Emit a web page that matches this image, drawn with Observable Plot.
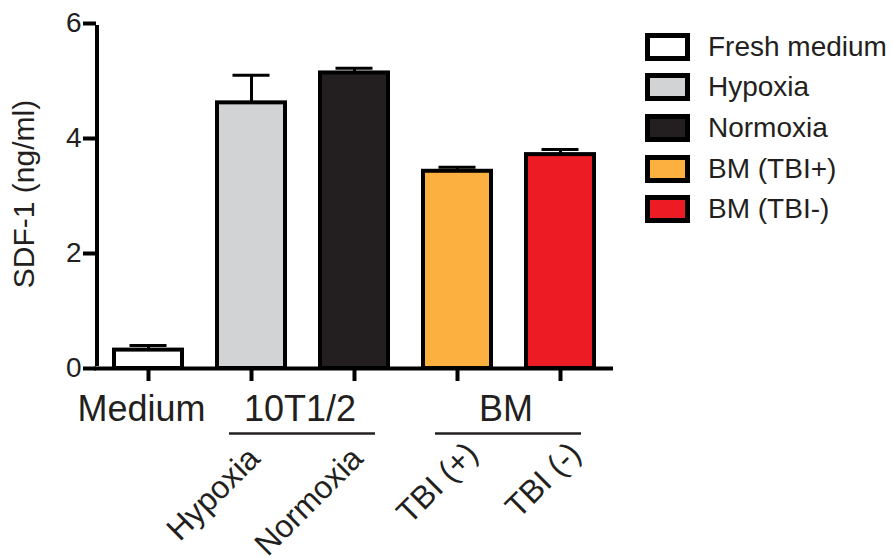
<!DOCTYPE html>
<html><head><meta charset="utf-8">
<script src="https://cdn.jsdelivr.net/npm/d3@7"></script>
<script src="https://cdn.jsdelivr.net/npm/@observablehq/plot@0.6"></script>
<style>
body{margin:0;background:#fff;}
#wrap{position:relative;width:892px;height:557px;font-family:"Liberation Sans",Arial,Helvetica,sans-serif;}
.leg-row{position:absolute;left:645px;height:28px;width:247px;}
.sw{position:absolute;left:0;top:0;width:45px;height:28px;border:5px solid #000;box-sizing:border-box;}
.lt{position:absolute;left:63px;top:0;font-size:28px;line-height:28px;color:#231f20;white-space:nowrap;}
</style></head><body><div id="wrap"></div>
<script>
const categories = ["Medium", "Hypoxia", "Normoxia", "TBI (+)", "TBI (-)"];
const values = [0.32, 4.62, 5.14, 3.43, 3.72];
const errors = [0.08, 0.48, 0.08, 0.07, 0.09];
const colors = ["#ffffff", "#d1d3d4", "#231f20", "#fbb040", "#ed1c24"];
const legendLabels = ["Fresh medium", "Hypoxia", "Normoxia", "BM (TBI+)", "BM (TBI-)"];
const yTicks = [0, 2, 4, 6];
const yLabel = "SDF-1 (ng/ml)";
const groupNames = ["10T1/2", "BM"];
const groupFirst = ["Hypoxia", "TBI (+)"];
const groupLast = ["Normoxia", "TBI (-)"];
const labels10T = ["Hypoxia", "Normoxia"];
const labelsBM = ["TBI (+)", "TBI (-)"];
const mediumLabel = "Medium";

const rows = categories.map((c, i) => ({cat: c, value: values[i], err: values[i] + errors[i]}));
const groups = groupNames.map((g, i) => ({name: g, first: groupFirst[i], last: groupLast[i]}));

const xOpts = {domain: categories, paddingInner: 0.34, paddingOuter: 0.17};
const xs = Plot.scale({x: {...xOpts, type: "band", range: [96, 611]}});
const step = xs.step;
const bw = xs.bandwidth;
const ink = "#231f20";
const font = "Liberation Sans, Arial, Helvetica, sans-serif";

const chart = Plot.plot({
  width: 892,
  height: 557,
  marginLeft: 96,
  marginRight: 281,
  marginTop: 23,
  marginBottom: 189,
  style: {fontFamily: font, color: ink, background: "#fff", overflow: "visible"},
  x: {...xOpts, type: "band", axis: null},
  y: {domain: [0, 6], axis: null},
  color: {domain: categories, range: colors},
  marks: [
    // error bars
    Plot.ruleX(rows, {x: "cat", y1: "value", y2: "err", stroke: "#000", strokeWidth: 3}),
    Plot.tickY(rows, {x: "cat", y: "err", stroke: "#000", strokeWidth: 3, insetLeft: (bw - 37) / 2, insetRight: (bw - 37) / 2}),
    // bars
    Plot.barY(rows, {x: "cat", y: "value", fill: "cat", stroke: "#000", strokeWidth: 4}),
    // axes lines
    Plot.ruleY([0], {stroke: "#000", strokeWidth: 4, insetLeft: -2, insetRight: -2}),
    Plot.ruleX([categories[0]], {y1: 0, y2: 6, dx: -step / 2, stroke: "#000", strokeWidth: 4, insetTop: -2, insetBottom: -2}),
    Plot.axisY({ticks: yTicks, tickSize: 13, tickPadding: 2, strokeWidth: 4, stroke: "#000", fontSize: 28, fill: ink, label: null, tickFormat: d3.format("d")}),
    Plot.axisX({tickSize: 13, strokeWidth: 4, stroke: "#000", tickFormat: () => "", label: null}),
    // y label
    Plot.text([yLabel], {y: [3], text: d => d, frameAnchor: "left", textAnchor: "middle", dx: -72, dy: -2, rotate: -90, fontSize: 30, fill: ink}),
    // group labels
    Plot.text([mediumLabel], {x: [categories[0]], y: [0], text: d => d, dy: 52, dx: -7, lineAnchor: "bottom", fontSize: 36, fill: ink}),
    Plot.text(groups, {x: "first", y: () => 0, text: "name", dy: 52, dx: step / 2 - 3, lineAnchor: "bottom", fontSize: 36, fill: ink}),
    Plot.ruleY(groups, {x1: "first", x2: "last", y: () => 0, dy: 65, insetLeft: 12, insetRight: 13, stroke: ink, strokeWidth: 2.5}),
    // rotated labels
    Plot.text(labels10T, {x: d => d, y: () => 0, text: d => d, rotate: -45, textAnchor: "end", lineAnchor: "bottom", dx: 10, dy: 92, fontSize: 32, fill: ink}),
    Plot.text(labelsBM, {x: d => d, y: () => 0, text: d => d, rotate: -45, textAnchor: "end", lineAnchor: "bottom", dx: 22, dy: 87, fontSize: 32, fill: ink})
  ]
});

const wrap = document.getElementById("wrap");
wrap.appendChild(chart);
legendLabels.forEach((lab, i) => {
  const row = document.createElement("div");
  row.className = "leg-row";
  row.style.top = (32.7 + i * 40.6) + "px";
  const sw = document.createElement("div");
  sw.className = "sw";
  sw.style.background = colors[i];
  const t = document.createElement("div");
  t.className = "lt";
  t.textContent = lab;
  row.appendChild(sw);
  row.appendChild(t);
  wrap.appendChild(row);
});
chart.style.position = "absolute";
chart.style.left = "0";
chart.style.top = "0";
</script></body></html>
